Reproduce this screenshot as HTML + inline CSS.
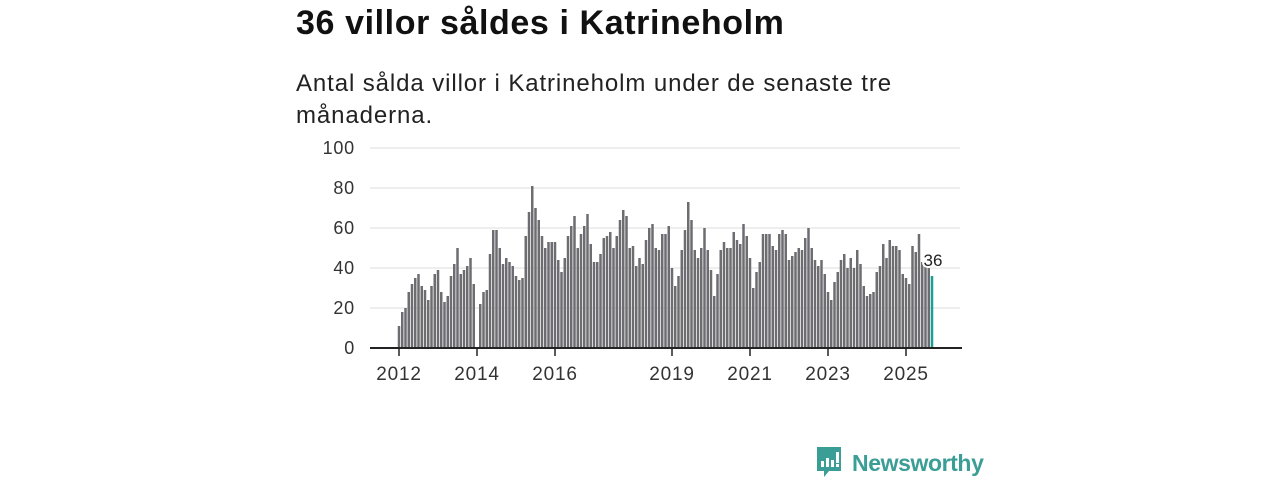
<!DOCTYPE html>
<html><head><meta charset="utf-8"><style>
body{margin:0;width:1280px;height:480px;background:#fff;font-family:"Liberation Sans","DejaVu Sans",sans-serif;overflow:hidden;position:relative}
h1{position:absolute;left:296px;top:4px;margin:0;font-size:34px;font-weight:bold;color:#111;letter-spacing:0.6px}
.sub{position:absolute;left:296px;top:68px;width:660px;margin:0;font-size:24px;line-height:32px;color:#222;letter-spacing:0.9px}
svg{position:absolute;left:0;top:0}
</style></head><body>
<h1>36 villor såldes i Katrineholm</h1>
<p class="sub">Antal sålda villor i Katrineholm under de senaste tre månaderna.</p>
<svg id="chart" width="1280" height="480"></svg>
<script>
const values=[11,18,20,28,32,35,37,31,29,24,31,37,39,28,23,26,36,42,50,37,39,41,45,32,
0,22,28,29,47,59,59,50,42,45,43,41,36,34,35,56,
68,81,70,64,56,50,53,53,53,44,38,45,56,61,66,50,57,61,67,52,43,43,47,55,56,58,50,56,64,69,66,50,51,41,45,42,54,60,62,50,49,57,
57,61,40,31,36,49,59,73,64,49,45,50,60,49,39,26,37,49,53,50,50,58,54,52,62,56,45,30,38,43,57,57,57,51,49,57,59,57,44,46,
48,50,49,55,60,50,44,41,44,37,28,24,33,38,44,47,40,45,40,49,42,31,26,27,28,38,41,52,45,54,51,51,49,37,35,32,51,48,57,43,41,40,36];
const yTicks=[0,20,40,60,80,100];
const xTickLabels=["2012","2014","2016","2019","2021","2023","2025"];
const xTickIndex=[0,24,48,84,108,132,156];
const NS="http://www.w3.org/2000/svg";
const svg=document.getElementById('chart');
const y=v=>348-v*2;
const x=i=>399+i*3.25;
function mk(t,a){const e=document.createElementNS(NS,t);for(const k in a)e.setAttribute(k,a[k]);svg.appendChild(e);return e;}
yTicks.forEach(t=>{
  const g=mk('line',{x1:370,x2:960,y1:y(t),y2:y(t),stroke:'#dcdcdc','stroke-width':1});
  
  
  const l=mk('text',{x:355,y:y(t)+6,'text-anchor':'end','font-size':18,fill:'#333','letter-spacing':'0.8'});
  l.textContent=t;
  
  
});
values.forEach((v,i)=>{
  if(!v)return;
  const last=i===values.length-1;
  const r=mk('rect',{x:x(i)-1.25,y:y(v),width:2.5,height:v*2,fill:last?'#1a9e96':'#6d6c71'});
  
  
});
const ax=mk('line',{x1:370,x2:962,y1:348,y2:348,stroke:'#222','stroke-width':2});


xTickLabels.forEach((s,k)=>{
  const xx=x(xTickIndex[k]);
  const tk=mk('line',{x1:xx,x2:xx,y1:348,y2:356,stroke:'#222','stroke-width':1.5});
  
  
  const t=mk('text',{x:xx,y:380,'text-anchor':'middle','font-size':19,fill:'#333','letter-spacing':'0.8'});
  t.textContent=s;
  
  
});
const li=values.length-1;
const lab=mk('text',{x:x(li)+1,y:y(values[li])-10,'text-anchor':'middle','font-size':17,fill:'#222',stroke:'#fff','stroke-width':4,'paint-order':'stroke'});
lab.textContent=values[li];


</script>
<div style="position:absolute;left:815px;top:446px;display:flex;align-items:center">
<svg width="28" height="34" viewBox="0 0 28 34" style="position:static"><path d="M2 1h24v24H14l-5 6v-6H2z" fill="#3a9e96"/><rect x="6" y="15" width="3" height="6" fill="#fff"/><rect x="11" y="12" width="3" height="9" fill="#fff"/><rect x="16" y="14" width="3" height="7" fill="#fff"/><rect x="21" y="6" width="3" height="11" fill="#fff"/><rect x="21" y="18" width="3" height="3" fill="#fff"/></svg>
<span style="margin-left:9px;font-size:23px;color:#3a9e96;font-weight:bold;letter-spacing:-0.4px">Newsworthy</span>
</div>
</body></html>
